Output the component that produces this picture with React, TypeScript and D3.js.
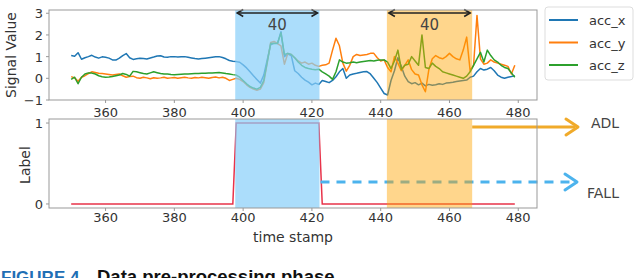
import { useEffect, useRef } from 'react';
import * as d3 from 'd3';

// time stamps 350..479, one sample per stamp
const timeStamps = d3.range(350, 480);

const accX = [
    1.05, 1.02, 1.18, 0.88, 0.95, 1.0, 1.06, 0.98, 0.93, 0.99,
    0.97, 0.93, 0.85, 0.84, 0.93, 1.05, 1.14, 0.95, 0.87, 0.9,
    0.93, 0.91, 0.89, 0.94, 0.98, 1.03, 1.04, 0.98, 0.97, 1.0,
    1.0, 0.98, 0.99, 1.0, 0.97, 0.94, 0.91, 0.89, 0.91, 0.93,
    0.95, 0.97, 0.99, 1.0, 0.96, 0.9, 0.82, 0.79, 0.77, 0.74,
    0.62, 0.48, 0.3, 0.12, -0.05, -0.22, 0.15, 0.85, 1.55, 1.62,
    1.6, 2.15, 1.0, 1.12, 1.05, 0.35, 0.22, 0.05, -0.08, -0.18,
    -0.3, -0.22, -0.28, -0.1, -0.15, -0.2, -0.1, 0.07, 0.3, 0.45,
    0.0, 0.15, 0.2, 0.23, 0.27, 0.3, 0.31, 0.2, 0.0, -0.2,
    -0.45, -0.7, -0.77, -0.1, 0.35, 0.95, 0.55, 0.1, -0.15, -0.25,
    -0.2, -0.3, -0.22, -0.35, -0.28, -0.32, -0.3, -0.25, -0.28, -0.22,
    -0.2, -0.18, -0.15, -0.12, -0.1, -0.08, 0.05, 0.1, 0.3, 0.45,
    0.38, 0.42, 0.5, 0.35, 0.15, 0.05, 0.0, 0.05, 0.08, 0.12,
];

const accY = [
    0.08, 0.02, -0.14, 0.05, 0.12, 0.22, 0.3, 0.27, 0.23, 0.22,
    0.2, 0.18, 0.15, 0.18, 0.2, 0.12, 0.05, 0.08, 0.1, 0.03,
    0.0, 0.05, 0.02, -0.02, 0.03, 0.0, 0.02, 0.05, 0.0, 0.02,
    0.04, 0.0, 0.03, 0.05, 0.02, 0.0, 0.04, 0.02, 0.05, 0.03,
    0.0, 0.04, 0.06, 0.02, 0.05, 0.0, -0.1, -0.05, 0.0, -0.05,
    -0.15, -0.3, -0.42, -0.5, -0.55, -0.5, -0.2, 0.7, 1.65, 1.7,
    1.6, 1.5, 0.65, 1.15, 1.1, 0.95, 0.8, 0.7, 0.75, 0.65,
    0.7, 0.6, 0.55, 0.6, 0.62, 0.7, 1.3, 1.85, 1.5, 0.7,
    0.33, 0.6, 1.0, 1.1, 1.05, 1.08, 1.1, 1.15, 1.15, 0.95,
    0.8, 0.85, 0.5, 0.3, 1.0, 0.7, 0.35, 0.6, 0.85, 0.4,
    0.2, 0.15, -0.3, -0.62, 0.4, 0.9, 1.05, 0.95, 0.9, 1.0,
    1.15, 1.0, 0.9, 0.85, 1.3, 1.9, 0.35, 0.6, 2.9, 0.9,
    0.65, 0.7, 0.85, 0.75, 0.7, 0.65, 0.6, 0.55, 0.2, 0.6,
];

const accZ = [
    -0.05, 0.05, -0.25, 0.05, 0.2, 0.25, 0.24, 0.2, 0.12, 0.07,
    0.05, 0.06, 0.08, 0.12, 0.15, 0.22, 0.18, 0.1, 0.32, 0.3,
    0.26, 0.22, 0.2, 0.25, 0.3, 0.26, 0.22, 0.2, 0.2, 0.18,
    0.17, 0.18, 0.19, 0.2, 0.2, 0.21, 0.22, 0.22, 0.23, 0.23,
    0.24, 0.25, 0.26, 0.27, 0.25, 0.22, 0.2, 0.17, 0.15, 0.05,
    -0.1, -0.25, -0.38, -0.45, -0.5, -0.42, -0.1, 0.75, 1.6, 1.6,
    1.62, 2.1, 1.1, 1.15, 1.1, 0.95, 0.75, 0.6, 0.5, 0.45,
    0.42, 0.4, 0.42, 0.3, 0.2, 0.1, -0.05, 0.3, 0.85, 0.75,
    0.7, 0.72, 0.75, 0.72, 0.75, 0.78, 0.8, 0.82, 0.8, 0.83,
    0.85, 0.85, 0.75, 0.45, 0.8, 1.3, 0.4, 0.6, 0.65, 1.0,
    0.8, 0.6, 2.0, 0.5, 0.45, 0.7, 0.55, 0.45, 0.3, 0.25,
    0.2, 0.15, 0.1, 0.05, 0.0, 0.1, 0.3, 0.6, 0.9, 1.2,
    0.75, 1.3, 1.05, 0.85, 0.75, 0.6, 0.5, 0.45, 0.25, 0.05,
];

const seriesNames = ['acc_x', 'acc_y', 'acc_z'];
const seriesColors = ['#1f77b4', '#ff7f0e', '#2ca02c'];

const labelTimes = [350, 397, 398, 422, 423, 479];
const labelValues = [0, 0, 1, 1, 0, 0];

const fallWindow = [397.7, 422.2];
const adlWindow = [441.8, 466.6];
const windowText = '40';

const xTicks = [360, 380, 400, 420, 440, 460, 480];
const signalTicks = [-1, 0, 1, 2, 3];
const labelTicks = [0, 1];

const FONT = 'DejaVu Sans, sans-serif';

export default function App() {
    const svgRef = useRef<SVGSVGElement>(null);

    useEffect(() => {
        if (!svgRef.current) return;
        const svg = d3.select(svgRef.current);
        svg.selectAll('*').remove();

        const left = 49, right = 537;
        const top1 = 10, bot1 = 100;
        const top2 = 119, bot2 = 208;

        const x = d3.scaleLinear().domain([343.55, 485.45]).range([left, right]);
        const ySig = d3.scaleLinear().domain([-1, 3.15]).range([bot1, top1]);
        const yLab = d3.scaleLinear().domain([-0.05, 1.05]).range([bot2, top2]);

        const series = [accX, accY, accZ];

        // signal lines
        const line = d3.line<number>().x((_, i) => x(timeStamps[i])).y(d => ySig(d));
        series.forEach((vals, k) => {
            svg.append('path').attr('d', line(vals)!)
                .attr('fill', 'none').attr('stroke', seriesColors[k])
                .attr('stroke-width', 1.5).attr('stroke-linejoin', 'round');
        });

        // label line
        const labLine = d3.line<number>().x((_, i) => x(labelTimes[i])).y(d => yLab(d));
        svg.append('path').attr('d', labLine(labelValues)!)
            .attr('fill', 'none').attr('stroke', '#e8334a').attr('stroke-width', 1.5);

        // FALL arrow (under the ADL window)
        const fallY = 182;
        svg.append('line')
            .attr('x1', x(fallWindow[1]) + 1).attr('x2', 573)
            .attr('y1', fallY).attr('y2', fallY)
            .attr('stroke', '#4cb3ed').attr('stroke-width', 3.2)
            .attr('stroke-dasharray', '9,7');
        svg.append('path').attr('d', `M565,${fallY - 8} L577,${fallY} L565,${fallY + 8}`)
            .attr('fill', 'none').attr('stroke', '#4cb3ed').attr('stroke-width', 3)
            .attr('stroke-linecap', 'round').attr('stroke-linejoin', 'round');

        // windows
        for (const [y0, y1] of [[top1, bot1], [top2, bot2]]) {
            svg.append('rect')
                .attr('x', x(fallWindow[0])).attr('width', x(fallWindow[1]) - x(fallWindow[0]))
                .attr('y', y0).attr('height', y1 - y0)
                .attr('fill', '#87cefa').attr('fill-opacity', 0.7);
            svg.append('rect')
                .attr('x', x(adlWindow[0])).attr('width', x(adlWindow[1]) - x(adlWindow[0]))
                .attr('y', y0).attr('height', y1 - y0)
                .attr('fill', '#ffa500').attr('fill-opacity', 0.45);
        }

        // ADL arrow
        const adlY = 127;
        svg.append('line')
            .attr('x1', x(adlWindow[1])).attr('x2', 575)
            .attr('y1', adlY).attr('y2', adlY)
            .attr('stroke', '#f0aa2a').attr('stroke-width', 3.2);
        svg.append('path').attr('d', `M566,${adlY - 8} L578,${adlY} L566,${adlY + 8}`)
            .attr('fill', 'none').attr('stroke', '#f0aa2a').attr('stroke-width', 3)
            .attr('stroke-linecap', 'round').attr('stroke-linejoin', 'round');

        // window length arrows
        for (const w of [fallWindow, adlWindow]) {
            const a = x(w[0]) + 2, b = x(w[1]) - 2, ay = 13;
            svg.append('line').attr('x1', a).attr('x2', b).attr('y1', ay).attr('y2', ay)
                .attr('stroke', '#222').attr('stroke-width', 1.6);
            svg.append('path')
                .attr('d', `M${a + 6},${ay - 3.5} L${a},${ay} L${a + 6},${ay + 3.5} M${b - 6},${ay - 3.5} L${b},${ay} L${b - 6},${ay + 3.5}`)
                .attr('fill', 'none').attr('stroke', '#222').attr('stroke-width', 1.6);
            svg.append('text').attr('x', (a + b) / 2).attr('y', 30)
                .attr('text-anchor', 'middle').attr('font-size', 15).attr('font-family', FONT)
                .attr('fill', '#444').text(windowText);
        }

        // spines
        for (const [y0, y1] of [[top1, bot1], [top2, bot2]]) {
            svg.append('rect').attr('x', left).attr('y', y0)
                .attr('width', right - left).attr('height', y1 - y0)
                .attr('fill', 'none').attr('stroke', '#999').attr('stroke-width', 1);
        }

        // x ticks
        for (const [yb, base] of [[bot1, 117], [bot2, 222]]) {
            for (const t of xTicks) {
                svg.append('line').attr('x1', x(t)).attr('x2', x(t))
                    .attr('y1', yb).attr('y2', yb + 3).attr('stroke', '#999');
                svg.append('text').attr('x', x(t)).attr('y', base)
                    .attr('text-anchor', 'middle').attr('font-size', 13).attr('font-family', FONT)
                    .attr('fill', '#333').text(t);
            }
        }

        // y ticks
        for (const t of signalTicks) {
            svg.append('line').attr('x1', left - 3).attr('x2', left)
                .attr('y1', ySig(t)).attr('y2', ySig(t)).attr('stroke', '#999');
            svg.append('text').attr('x', left - 6).attr('y', ySig(t) + 5)
                .attr('text-anchor', 'end').attr('font-size', 13).attr('font-family', FONT)
                .attr('fill', '#333').text(t < 0 ? `\u2212${-t}` : t);
        }
        for (const t of labelTicks) {
            svg.append('line').attr('x1', left - 3).attr('x2', left)
                .attr('y1', yLab(t)).attr('y2', yLab(t)).attr('stroke', '#999');
            svg.append('text').attr('x', left - 6).attr('y', yLab(t) + 5)
                .attr('text-anchor', 'end').attr('font-size', 13).attr('font-family', FONT)
                .attr('fill', '#333').text(t);
        }

        // axis labels
        svg.append('text').attr('transform', `translate(16,55) rotate(-90)`)
            .attr('text-anchor', 'middle').attr('font-size', 14).attr('font-family', FONT)
            .attr('fill', '#333').text('Signal Value');
        svg.append('text').attr('transform', `translate(30,165) rotate(-90)`)
            .attr('text-anchor', 'middle').attr('font-size', 14).attr('font-family', FONT)
            .attr('fill', '#333').text('Label');
        svg.append('text').attr('x', (left + right) / 2).attr('y', 242)
            .attr('text-anchor', 'middle').attr('font-size', 14).attr('font-family', FONT)
            .attr('fill', '#333').text('time stamp');

        // ADL / FALL labels
        svg.append('text').attr('x', 591).attr('y', 128)
            .attr('font-size', 14).attr('font-family', FONT).attr('fill', '#444').text('ADL');
        svg.append('text').attr('x', 587).attr('y', 198)
            .attr('font-size', 14).attr('font-family', FONT).attr('fill', '#444').text('FALL');

        // legend
        const leg = svg.append('g');
        leg.append('rect').attr('x', 545).attr('y', 7).attr('width', 88).attr('height', 73)
            .attr('rx', 3).attr('fill', '#fff').attr('stroke', '#ddd');
        seriesNames.forEach((name, k) => {
            const ly = 20 + k * 22.5;
            leg.append('line').attr('x1', 549).attr('x2', 578).attr('y1', ly).attr('y2', ly)
                .attr('stroke', seriesColors[k]).attr('stroke-width', 2);
            leg.append('text').attr('x', 589).attr('y', ly + 5)
                .attr('font-size', 13).attr('font-family', FONT).attr('fill', '#333').text(name);
        });

        // caption (cut off by the frame, as in the source figure)
        const cap = svg.append('text').attr('y', 283)
            .attr('font-family', 'Liberation Sans, Arial, sans-serif').attr('font-weight', 'bold');
        cap.append('tspan').attr('x', 1).attr('font-size', 17).attr('fill', '#1f6fb5').text('FIGURE 4.');
        cap.append('tspan').attr('x', 97).attr('font-size', 18.5).attr('fill', '#111').text('Data pre-processing phase');
    }, []);

    return (
        <svg ref={svgRef} width={640} height={278}
            style={{ position: 'fixed', left: 0, top: 0, background: '#fff' }} />
    );
}
